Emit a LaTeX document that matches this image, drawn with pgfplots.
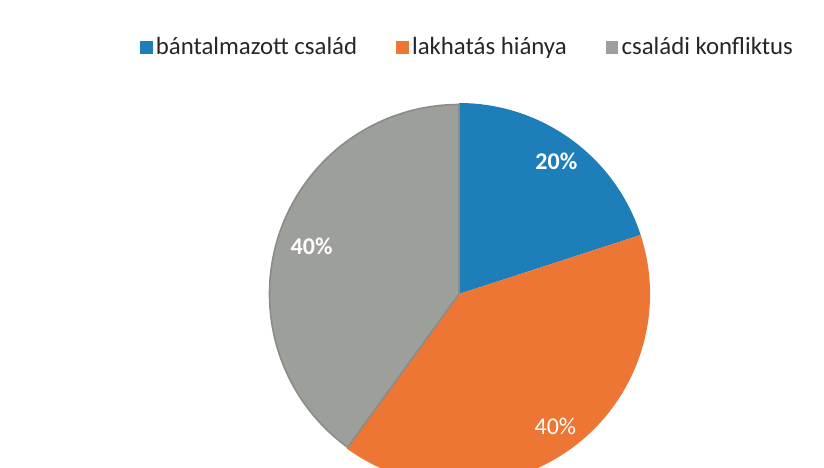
\documentclass[border=0pt]{standalone}
\usepackage{pgfplots}
\pgfplotsset{compat=1.18}
\usepackage{pgfplotstable}
\usepackage{fontspec}
\setmainfont{Carlito}
\definecolor{pieblue}{RGB}{30,126,186}
\definecolor{pieorange}{RGB}{238,118,52}
\definecolor{piegray}{RGB}{157,159,155}
\definecolor{piegrayedge}{RGB}{138,140,136}
\pgfplotstableread{
id share
1 20
2 40
3 40
}\piedata
\begin{document}
\begin{tikzpicture}
\pgfplotstablegetelem{0}{share}\of\piedata \global\let\va\pgfplotsretval
\pgfplotstablegetelem{1}{share}\of\piedata \global\let\vb\pgfplotsretval
\pgfplotstablegetelem{2}{share}\of\piedata \global\let\vc\pgfplotsretval
\pgfmathsetmacro\aA{90}
\pgfmathsetmacro\aB{\aA-3.6*\va}
\pgfmathsetmacro\aC{\aB-3.6*\vb}
\pgfmathsetmacro\aD{\aC-3.6*\vc}
\pgfmathsetmacro\mA{(\aA+\aB)/2}
\pgfmathsetmacro\mB{(\aB+\aC)/2}
\pgfmathsetmacro\mC{(\aC+\aD)/2}
\begin{axis}[
  at={(0,0)}, anchor=south west,
  scale only axis, width=824bp, height=468bp,
  xmin=0, xmax=824, ymin=0, ymax=468,
  hide axis,
  legend columns=3,
  legend cell align=left,
  legend image code/.code={\fill[#1] (0bp,-6bp) rectangle (11.5bp,6bp); \path (15.5bp,0bp);},
  legend style={draw=none, fill=none, at={(axis cs:466.5,421)}, anchor=center,
    font=\fontsize{24.8bp}{29bp}\selectfont, text=black!85,
    inner sep=0pt, outer sep=0pt,
    nodes={inner sep=0bp},
    /tikz/every even column/.append style={column sep=39bp}},
]
\addlegendimage{pieblue}
\addlegendentry{bántalmazott család}
\addlegendimage{pieorange}
\addlegendentry{lakhatás hiánya}
\addlegendimage{piegray}
\addlegendentry{családi konfliktus}
\fill[pieblue] (axis cs:459,174) -- ++(\aA:191bp) arc[start angle=\aA, end angle=\aB, radius=191bp] -- cycle;
\fill[pieorange] (axis cs:459,174) -- ++(\aB:191bp) arc[start angle=\aB, end angle=\aC, radius=191bp] -- cycle;
\filldraw[fill=piegray, draw=piegrayedge, line width=1.6bp] (axis cs:459,174) -- ++(\aC:189.5bp) arc[start angle=\aC, end angle=\aD, radius=189.5bp] -- cycle;
\path (axis cs:460,174) ++(\mA:164bp) node[text=white, font=\fontsize{24bp}{28bp}\selectfont\bfseries] {\va\%};
\path (axis cs:459,174) ++(\mB:164bp) node[text=white, font=\fontsize{24bp}{28bp}\selectfont] {\vb\%};
\path (axis cs:459,174) ++(\mC:155bp) node[text=white, font=\fontsize{24bp}{28bp}\selectfont\bfseries] {\vc\%};
\end{axis}
\pgfresetboundingbox
\useasboundingbox (0,0) rectangle (824bp,468bp);
\end{tikzpicture}
\end{document}
